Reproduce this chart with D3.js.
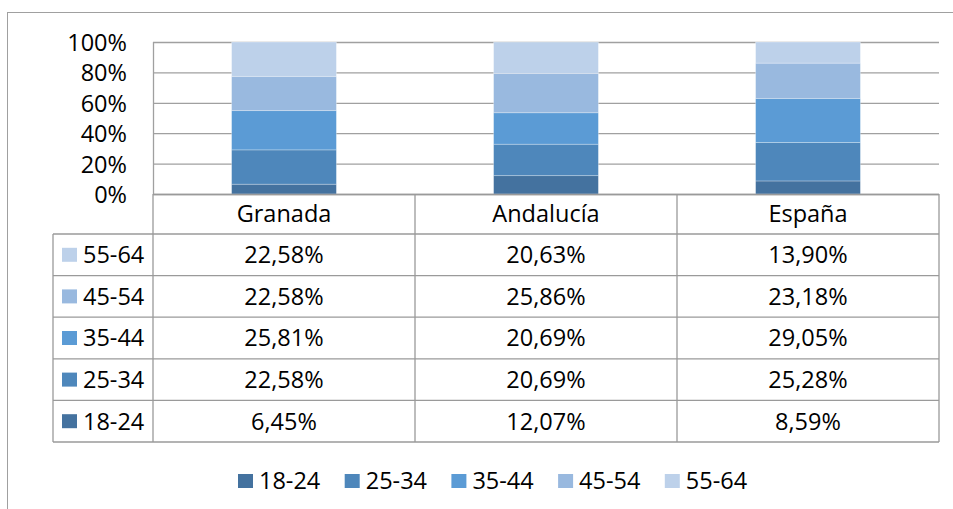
<!DOCTYPE html>
<html>
<head>
<meta charset="utf-8">
<script src="https://cdn.jsdelivr.net/npm/d3@7"></script>
<style>
  body { margin: 0; background: #fff; }
  svg { display: block; font-family: "Open Sans", sans-serif; }
</style>
</head>
<body>
<div id="chart"></div>
<script>
// data (percent per age group)
var regions = ['Granada', 'Andalucía', 'España'];
var ageGroups = ['18-24', '25-34', '35-44', '45-54', '55-64'];
var granada = [6.45, 22.58, 25.81, 22.58, 22.58];
var andalucia = [12.07, 20.69, 20.69, 25.86, 20.63];
var espana = [8.59, 25.28, 29.05, 23.18, 13.90];
var colors = ['#44729f', '#4e87bb', '#5b9bd5', '#99b9df', '#bdd1ea'];
var yTicks = [0, 20, 40, 60, 80, 100];

(function () {
    var width = 953, height = 509;
    var left = 153, right = 939, top = 42, bottom = 194;
    var rowH = 41.6, headH = 40, labelLeft = 53;
    var fontSize = 23.5;

    var series = [granada, andalucia, espana];
    var rows = regions.map(function (r, i) {
        var o = { region: r };
        ageGroups.forEach(function (g, j) { o[g] = series[i][j]; });
        return o;
    });

    var fmt = d3.formatLocale({ decimal: ',', thousands: '.', grouping: [3], currency: ['', '€'] }).format('.2f');

    var svg = d3.select('#chart').append('svg')
        .attr('width', width)
        .attr('height', height);

    // chart frame (cut off at the right and bottom)
    svg.append('rect')
        .attr('x', 7.5).attr('y', 12.5)
        .attr('width', width + 10).attr('height', height + 10)
        .attr('fill', 'none')
        .attr('stroke', '#a0a0a0');

    var x = d3.scaleBand().domain(regions).range([left, right]);
    var y = d3.scaleLinear().domain([0, 100]).range([bottom, top]);
    var color = d3.scaleOrdinal().domain(ageGroups).range(colors);

    // gridlines
    svg.append('g')
        .attr('transform', 'translate(' + left + ',0)')
        .call(d3.axisLeft(y).tickValues(yTicks).tickSize(-(right - left)).tickFormat(''))
        .call(function (g) {
            g.select('.domain').remove();
            g.selectAll('line').attr('stroke', '#a0a0a0').attr('stroke-width', 1.3);
        });

    // left edge of plot
    svg.append('line')
        .attr('x1', left + 0.5).attr('x2', left + 0.5)
        .attr('y1', top).attr('y2', bottom)
        .attr('stroke', '#a0a0a0').attr('stroke-width', 1.3);

    // y labels
    svg.append('g')
        .attr('transform', 'translate(' + (left - 26) + ',0)')
        .call(d3.axisLeft(y).tickValues(yTicks).tickSize(0).tickPadding(0)
            .tickFormat(function (d) { return d + '%'; }))
        .call(function (g) {
            g.select('.domain').remove();
            g.selectAll('text')
                .attr('font-size', fontSize)
                .attr('font-family', '"Open Sans", sans-serif')
                .attr('fill', '#000')
                .attr('dy', '0.36em');
        });

    // stacked bars
    var stacked = d3.stack().keys(ageGroups)(rows);
    var barW = x.bandwidth() * 0.4;
    svg.append('g').selectAll('g')
        .data(stacked)
        .enter().append('g')
        .attr('fill', function (d) { return color(d.key); })
        .selectAll('rect')
        .data(function (d) { return d; })
        .enter().append('rect')
        .attr('x', function (d) { return x(d.data.region) + (x.bandwidth() - barW) / 2; })
        .attr('width', barW)
        .attr('y', function (d) { return y(Math.min(100, d[1])); })
        .attr('height', function (d) { return y(d[0]) - y(Math.min(100, d[1])); })
        .attr('stroke', 'rgba(255,255,255,0.35)')
        .attr('stroke-width', 0.8);

    // data table
    var lineColor = '#9a9a9a';
    var table = svg.append('g');
    var tableTop = bottom;
    var tableBottom = bottom + headH + rowH * ageGroups.length;

    // horizontal lines
    table.append('line')
        .attr('x1', left).attr('x2', right)
        .attr('y1', tableTop + 0.5).attr('y2', tableTop + 0.5)
        .attr('stroke', lineColor).attr('stroke-width', 1.3);
    d3.range(ageGroups.length + 1).forEach(function (i) {
        var yy = tableTop + headH + i * rowH;
        table.append('line')
            .attr('x1', labelLeft).attr('x2', right)
            .attr('y1', yy).attr('y2', yy)
            .attr('stroke', lineColor).attr('stroke-width', 1.3);
    });
    // vertical lines
    table.append('line')
        .attr('x1', labelLeft).attr('x2', labelLeft)
        .attr('y1', tableTop + headH).attr('y2', tableBottom)
        .attr('stroke', lineColor).attr('stroke-width', 1.3);
    regions.concat(['end']).forEach(function (r, i) {
        var xx = i < regions.length ? x(r) : right;
        table.append('line')
            .attr('x1', xx).attr('x2', xx)
            .attr('y1', tableTop).attr('y2', tableBottom)
            .attr('stroke', lineColor).attr('stroke-width', 1.3);
    });

    // header text
    table.selectAll('text.head')
        .data(regions)
        .enter().append('text')
        .attr('class', 'head')
        .attr('x', function (d) { return x(d) + x.bandwidth() / 2; })
        .attr('y', tableTop + headH / 2)
        .attr('dy', '0.36em')
        .attr('text-anchor', 'middle')
        .attr('font-size', fontSize)
        .text(function (d) { return d; });

    // rows: top row is the last age group
    var order = ageGroups.slice().reverse();
    order.forEach(function (g, i) {
        var cy = tableTop + headH + i * rowH + rowH / 2;
        table.append('rect')
            .attr('x', 62).attr('y', cy - 7)
            .attr('width', 15).attr('height', 14)
            .attr('fill', color(g));
        table.append('text')
            .attr('x', 83).attr('y', cy)
            .attr('dy', '0.36em')
            .attr('font-size', fontSize)
            .text(g);
        rows.forEach(function (row) {
            table.append('text')
                .attr('x', x(row.region) + x.bandwidth() / 2)
                .attr('y', cy)
                .attr('dy', '0.36em')
                .attr('text-anchor', 'middle')
                .attr('font-size', fontSize)
                .text(fmt(row[g]) + '%');
        });
    });

    // legend
    var legend = svg.append('g').attr('transform', 'translate(238,481)');
    var item = legend.selectAll('g')
        .data(ageGroups)
        .enter().append('g')
        .attr('transform', function (d, i) { return 'translate(' + (i * 106.7) + ',0)'; });
    item.append('rect')
        .attr('x', 0).attr('y', -7)
        .attr('width', 15).attr('height', 14)
        .attr('fill', function (d) { return color(d); });
    item.append('text')
        .attr('x', 21).attr('y', 0)
        .attr('dy', '0.36em')
        .attr('font-size', fontSize)
        .text(function (d) { return d; });
})();
</script>
</body>
</html>
